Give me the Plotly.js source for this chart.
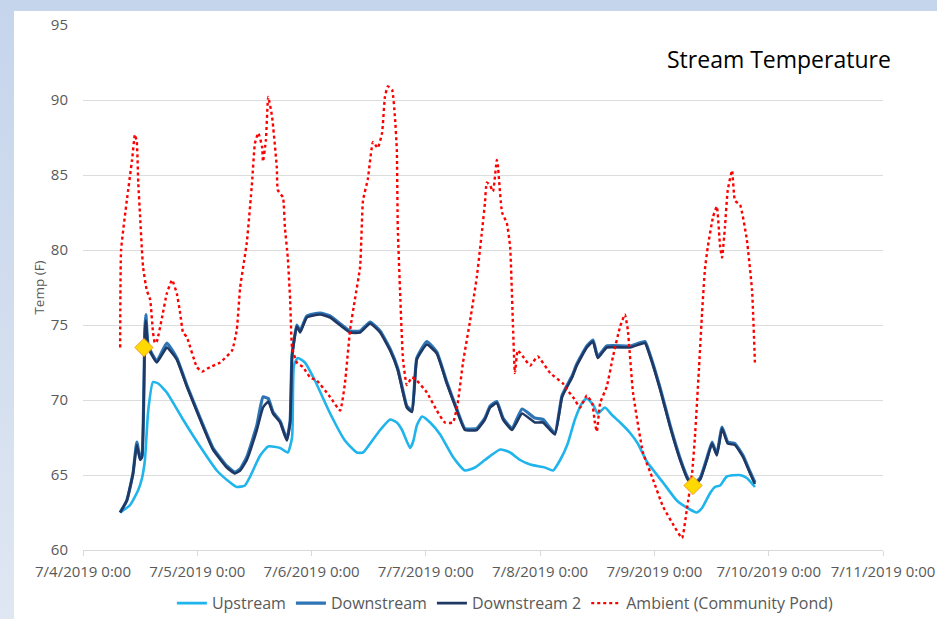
<!DOCTYPE html>
<html>
<head>
<meta charset="utf-8">
<script src="https://cdn.plot.ly/plotly-3.0.1.min.js"></script>
<style>
  html, body { margin: 0; padding: 0; }
  body { width: 937px; height: 619px; overflow: hidden;
         background: linear-gradient(180deg, #c5d5ec 0%, #d4dfef 60%, #dfe7f2 100%); position: relative; }
  #chart { position: absolute; left: 14px; top: 11px; width: 923px; height: 608px; background: #ffffff; }
</style>
</head>
<body>
<div id="chart"></div>
<script>
// Hours after 7/4/2019 0:00 and temperatures (F)
const upHours = [7.8, 9.9, 11.6, 12.4, 13.0, 13.7, 14.7, 15.8, 17.6, 21.0, 24.6, 28.1, 30.9, 32.3, 34.0, 35.1, 37.2, 38.9, 41.4, 43.0, 43.9, 44.3, 45.1, 46.6, 48.7, 51.9, 55.0, 57.5, 58.8, 60.3, 62.4, 64.5, 65.9, 67.0, 68.7, 69.4, 70.1, 71.2, 72.9, 75.0, 77.7, 80.2, 82.3, 84.4, 87.6, 89.7, 91.8, 93.9, 97.0, 98.7, 100.2, 101.8, 103.3, 104.8, 105.8, 107.1, 108.1, 109.6, 111.1, 112.8, 114.9, 116.5, 118.4, 121.8, 124.7, 127.5, 128.9, 130.0, 131.7, 132.7, 133.8, 135.2, 137.9, 139.4, 141.1];
const upstream = [62.5, 63.0, 64.0, 64.8, 66.0, 69.3, 71.2, 71.1, 70.5, 68.7, 66.9, 65.3, 64.5, 64.2, 64.3, 64.9, 66.3, 66.9, 66.8, 66.5, 67.5, 72.3, 72.8, 72.5, 71.3, 69.1, 67.3, 66.5, 66.5, 67.1, 68.0, 68.7, 68.5, 68.0, 66.8, 67.3, 68.3, 68.9, 68.5, 67.7, 66.2, 65.3, 65.5, 66.0, 66.7, 66.5, 66.0, 65.7, 65.5, 65.3, 66.0, 67.1, 68.7, 69.8, 70.1, 69.7, 69.1, 69.5, 69.0, 68.5, 67.8, 67.1, 65.9, 64.5, 63.3, 62.7, 62.5, 62.8, 63.8, 64.2, 64.3, 64.9, 65.0, 64.8, 64.2];

const dnHours = [7.8, 9.2, 10.5, 11.3, 12.0, 12.4, 13.0, 13.2, 13.7, 15.5, 17.6, 19.7, 21.8, 24.6, 27.3, 30.2, 31.9, 33.0, 34.4, 36.5, 37.8, 38.9, 39.9, 41.4, 42.8, 43.5, 43.9, 44.9, 45.6, 47.0, 49.8, 51.9, 56.1, 58.2, 60.3, 62.4, 64.5, 66.1, 67.2, 68.0, 69.1, 70.1, 72.2, 74.3, 76.4, 78.5, 80.2, 82.7, 84.4, 85.5, 86.9, 88.2, 90.1, 92.2, 94.9, 96.6, 99.1, 100.6, 102.7, 103.7, 105.8, 107.1, 108.1, 110.0, 114.9, 118.0, 119.1, 121.2, 123.3, 125.4, 127.0, 128.1, 129.6, 131.0, 132.1, 133.1, 134.2, 135.4, 136.9, 138.6, 140.1, 141.1];
const downstream = [62.5, 63.3, 65.1, 67.2, 66.1, 66.3, 74.8, 75.7, 73.6, 72.6, 73.8, 72.8, 71.0, 68.8, 66.8, 65.6, 65.2, 65.4, 66.2, 68.3, 70.2, 70.1, 69.2, 68.6, 67.4, 68.6, 73.0, 75.0, 74.6, 75.6, 75.8, 75.6, 74.6, 74.6, 75.2, 74.6, 73.4, 72.1, 70.6, 69.6, 69.3, 72.8, 73.9, 73.2, 71.2, 69.4, 68.1, 68.1, 68.8, 69.6, 69.9, 68.8, 68.1, 69.4, 68.8, 68.7, 67.8, 70.3, 71.6, 72.4, 73.6, 74.0, 72.9, 73.6, 73.6, 73.9, 73.0, 70.8, 68.3, 66.1, 64.8, 64.4, 64.8, 66.1, 67.2, 66.4, 68.2, 67.2, 67.1, 66.3, 65.2, 64.5];
const downstream2 = [62.5, 63.3, 65.1, 67.0, 66.0, 66.2, 74.5, 75.3, 73.5, 72.5, 73.5, 72.7, 70.9, 68.7, 66.7, 65.5, 65.1, 65.3, 66.0, 68.0, 69.5, 69.9, 69.1, 68.5, 67.3, 68.5, 72.9, 74.9, 74.5, 75.5, 75.7, 75.5, 74.5, 74.5, 75.1, 74.5, 73.3, 72.0, 70.5, 69.5, 69.2, 72.7, 73.7, 73.1, 71.1, 69.3, 68.0, 68.0, 68.7, 69.5, 69.8, 68.7, 68.0, 69.1, 68.5, 68.5, 67.7, 70.2, 71.5, 72.3, 73.5, 73.9, 72.8, 73.5, 73.5, 73.8, 72.9, 70.7, 68.2, 66.0, 64.7, 64.3, 64.7, 66.0, 67.1, 66.3, 68.1, 67.1, 67.0, 66.2, 65.1, 64.4];

const ambHours = [7.8, 8.0, 9.2, 10.3, 10.9, 11.3, 11.6, 12.0, 12.6, 13.4, 14.1, 14.7, 15.1, 15.5, 16.6, 17.6, 18.7, 19.7, 20.4, 21.0, 21.8, 23.9, 25.0, 26.7, 28.8, 31.3, 32.3, 33.0, 34.4, 35.5, 36.1, 36.8, 37.6, 37.8, 38.4, 38.9, 39.7, 40.7, 40.9, 42.0, 42.4, 43.0, 43.5, 43.9, 44.9, 46.2, 47.7, 49.1, 51.9, 54.0, 55.0, 56.1, 57.1, 58.2, 58.8, 59.8, 60.9, 61.9, 62.8, 63.4, 64.0, 64.9, 65.5, 65.9, 66.1, 66.6, 67.2, 68.0, 69.1, 70.1, 72.2, 74.3, 76.0, 77.7, 78.7, 79.8, 81.3, 82.7, 83.8, 84.4, 84.8, 85.5, 86.1, 86.9, 87.1, 88.0, 89.0, 89.7, 90.3, 90.7, 91.3, 92.4, 93.9, 95.5, 98.1, 100.8, 101.6, 102.9, 104.4, 105.8, 106.9, 107.5, 107.9, 108.6, 110.0, 111.3, 112.8, 113.8, 114.4, 115.5, 117.6, 119.7, 121.8, 124.3, 125.8, 126.8, 127.9, 128.5, 129.3, 130.0, 130.6, 131.2, 132.3, 133.1, 133.8, 134.2, 134.8, 135.4, 136.3, 136.9, 138.0, 139.4, 140.5, 141.1];
const ambient = [73.5, 80.0, 83.3, 86.0, 87.7, 87.2, 84.5, 82.2, 78.9, 77.3, 76.7, 74.5, 73.8, 73.9, 75.5, 77.1, 78.0, 77.1, 75.8, 74.5, 74.2, 72.2, 71.9, 72.2, 72.5, 73.3, 74.7, 77.5, 80.5, 84.5, 87.1, 87.8, 86.9, 85.9, 87.3, 90.2, 88.9, 85.5, 84.0, 83.5, 81.5, 79.5, 76.7, 73.5, 72.5, 72.2, 71.5, 71.3, 70.2, 69.3, 71.1, 74.7, 76.7, 78.9, 83.3, 84.7, 87.2, 86.8, 87.8, 90.2, 90.9, 90.7, 88.9, 86.7, 81.5, 77.1, 72.7, 71.0, 71.5, 71.3, 70.5, 69.3, 68.5, 68.5, 69.8, 72.5, 75.3, 78.2, 81.3, 83.1, 84.5, 84.3, 83.9, 86.0, 85.7, 82.5, 81.8, 80.2, 74.9, 71.8, 73.3, 72.9, 72.3, 72.9, 71.8, 71.1, 70.7, 70.2, 69.5, 70.3, 69.8, 68.5, 67.9, 69.8, 70.9, 72.9, 74.9, 75.7, 74.7, 70.5, 66.5, 64.7, 62.9, 61.5, 60.8, 62.7, 65.1, 67.5, 71.8, 75.8, 78.7, 80.2, 82.2, 82.9, 80.2, 79.5, 81.5, 84.0, 85.3, 83.3, 83.0, 80.7, 77.3, 72.5];

const markerHours = [12.8, 128.1];
const markerTemps = [73.5, 64.3];

const tickDays = ['2019-07-04', '2019-07-05', '2019-07-06', '2019-07-07', '2019-07-08', '2019-07-09', '2019-07-10', '2019-07-11'];
const tickLabels = ['7/4/2019 0:00', '7/5/2019 0:00', '7/6/2019 0:00', '7/7/2019 0:00', '7/8/2019 0:00', '7/9/2019 0:00', '7/10/2019 0:00', '7/11/2019 0:00'];

const base = Date.UTC(2019, 6, 4, 0, 0, 0);
function toDate(h) {
  return new Date(base + h * 3600000).toISOString().slice(0, 19).replace('T', ' ');
}
const FONT = 'Open Sans, Noto Sans, sans-serif';
const GRAY = '#595959';

const traces = [
  { x: upHours.map(toDate), y: upstream, name: 'Upstream', mode: 'lines', type: 'scatter',
    line: { color: '#1fb4ec', width: 2.6, shape: 'spline', smoothing: 0.5 } },
  { x: dnHours.map(toDate), y: downstream, name: 'Downstream', mode: 'lines', type: 'scatter',
    line: { color: '#2e75b6', width: 3.2, shape: 'spline', smoothing: 0.4 } },
  { x: dnHours.map(toDate), y: downstream2, name: 'Downstream 2', mode: 'lines', type: 'scatter',
    line: { color: '#1f3864', width: 2.6, shape: 'spline', smoothing: 0.4 } },
  { x: ambHours.map(toDate), y: ambient, name: 'Ambient (Community Pond)', mode: 'lines', type: 'scatter',
    line: { color: '#ff0000', width: 2.4, dash: 'dot', shape: 'spline', smoothing: 0.4 } },
  { x: markerHours.map(toDate), y: markerTemps, mode: 'markers', type: 'scatter', showlegend: false,
    marker: { symbol: 'diamond', size: 14, color: '#ffd900', line: { color: '#f0a020', width: 1 } } }
];

const layout = {
  width: 923, height: 608,
  paper_bgcolor: '#ffffff', plot_bgcolor: '#ffffff',
  margin: { l: 69, r: 54, t: 14, b: 69 },
  font: { family: FONT, color: GRAY },
  title: { text: 'Stream Temperature', font: { family: FONT, size: 23, color: '#000000' },
    xref: 'container', x: 0.95, xanchor: 'right', yref: 'container', y: 0.92, yanchor: 'middle' },
  xaxis: {
    type: 'date', range: [tickDays[0], tickDays[7]],
    tickmode: 'array', tickvals: tickDays, ticktext: tickLabels,
    showgrid: false, showline: true, linecolor: '#d9d9d9', linewidth: 1,
    ticks: 'outside', ticklen: 5, tickcolor: '#d9d9d9',
    tickfont: { family: FONT, size: 15, color: GRAY }, ticklabelstandoff: 3,
    zeroline: false, fixedrange: true
  },
  yaxis: {
    range: [60, 95], dtick: 5, tick0: 60,
    showgrid: true, gridcolor: '#dcdcdc', gridwidth: 1,
    showline: false, zeroline: false, ticks: '',
    tickfont: { family: FONT, size: 15, color: GRAY }, ticklabelstandoff: 14,
    title: { text: 'Temp (F)', font: { family: FONT, size: 13.5, color: GRAY }, standoff: 3 }
  },
  showlegend: true,
  legend: { orientation: 'h', x: 0.528, xanchor: 'center', yref: 'container', y: 0.026, yanchor: 'middle',
    font: { family: FONT, size: 16, color: GRAY }, itemwidth: 30, tracegroupgap: 0 }
};

Plotly.newPlot('chart', traces, layout, { displayModeBar: false, staticPlot: true });
</script>
</body>
</html>
